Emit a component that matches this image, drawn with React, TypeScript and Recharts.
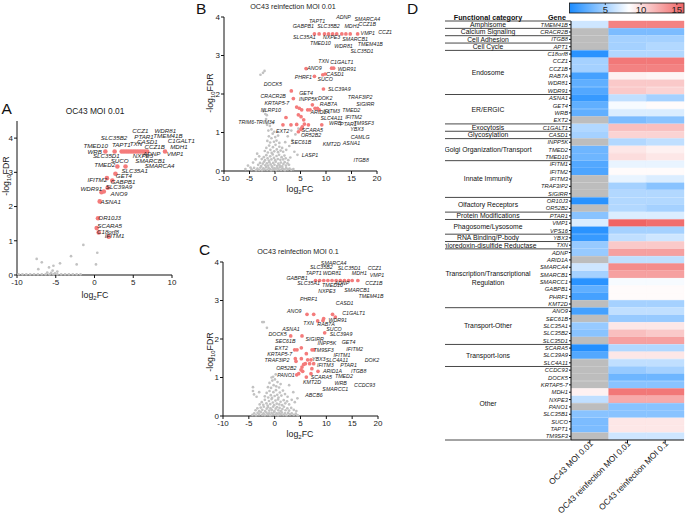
import React from "react";
import {
  ScatterChart,
  Scatter,
  XAxis,
  YAxis,
  ReferenceDot,
  BarChart,
  Bar,
  Cell,
} from "recharts";

const FONT = "'Liberation Sans', Arial, Helvetica, sans-serif";

type Pt = [number, number];
type Lbl = [string, number, number];

// ---------- panel A : OC43 MOI 0.01 ----------
const aRed: Pt[] = [
  [1.4, 3.61], [2.6, 3.61], [3.5, 3.61], [3.8, 3.61], [4.1, 3.61], [4.4, 3.61],
  [4.7, 3.61], [5.0, 3.61], [5.3, 3.61], [5.6, 3.61], [5.9, 3.61], [6.2, 3.61],
  [6.5, 3.61], [6.8, 3.61], [9.1, 3.61], [2.95, 3.17], [4.0, 3.17], [2.7, 2.96],
  [1.6, 2.83], [2.3, 2.76], [1.7, 2.55], [1.2, 2.44], [0.9, 2.42], [0.67, 2.15],
  [0.45, 1.66], [0.28, 1.37], [0.54, 1.24], [1.83, 1.12],
];
const aGray: Pt[] = [
  [-9.8, 0.02], [-9.3, 0.02], [-8.8, 0.02], [-8.3, 0.02], [-7.8, 0.02], [-7.3, 0.02],
  [-6.8, 0.02], [-6.3, 0.02], [-5.8, 0.02], [-5.3, 0.02], [-4.8, 0.02], [-4.3, 0.02],
  [-3.8, 0.02], [-3.3, 0.02], [-2.8, 0.02], [-2.3, 0.02], [-1.8, 0.02],
  [-7.46, 0.47], [-6.8, 0.37], [-7.25, 0.17], [-5.87, 0.22], [-5.3, 0.27], [-4.45, 0.34],
  [-5.4, 0.13], [-4.8, 0.1], [-3.03, 0.55], [-2.3, 0.31], [-1.44, 0.88], [0.36, 0.65],
  [0.19, 0.31], [-6.1, 0.07], [-5.6, 0.06], [-5.1, 0.05],
];
const aLabels: Lbl[] = [
  ["CCZ1", 5.91, 4.21], ["WDR81", 9.14, 4.21], ["PTAR1", 6.39, 4.04], ["TMEM41B", 9.48, 4.07],
  ["SLC35B2", 2.52, 4.02], ["CASD1", 6.82, 3.9], ["C1GALT1", 11.2, 3.91], ["TMED10", 0.15, 3.78],
  ["TAPT1", 3.46, 3.8], ["TXN", 5.35, 3.83], ["CCZ1B", 7.76, 3.74], ["MDH1", 10.9, 3.74],
  ["WRB", 0.02, 3.6], ["ADNP", 7.38, 3.54], ["VMP1", 10.4, 3.53], ["SLC35D1", 1.53, 3.48],
  ["NXPE3", 6.26, 3.48], ["SMARCB1", 7.2, 3.34], ["SUCO", 3.25, 3.34], ["TMED2", 1.31, 3.22],
  ["SMARCA4", 8.4, 3.19], ["SLC35A1", 5.18, 3.04], ["GET4", 3.8, 2.9], ["IFITM2", 0.37, 2.78],
  ["GABPB1", 3.68, 2.72], ["SLC39A9", 3.16, 2.57], ["WDR91", -0.41, 2.51], ["ANO9", 3.16, 2.37],
  ["ASNA1", 2.09, 2.14], ["OR10J3", 1.96, 1.67], ["SCARA5", 1.96, 1.43], ["C18orf8", 1.74, 1.26],
  ["IFITM1", 2.6, 1.14],
];

// ---------- panel B : OC43 reinfection MOI 0.01 ----------
const bRed: Pt[] = [
  [7.73, 3.56], [8.65, 3.56], [9.7, 3.56], [10.5, 3.56], [11.3, 3.56], [12.1, 3.56],
  [13.1, 3.56], [13.9, 3.56], [14.75, 3.56], [16.2, 3.56],
  [6.09, 2.66], [11.1, 2.67], [11.5, 2.67], [9.37, 2.5], [9.83, 2.52], [7.73, 2.46],
  [9.5, 2.13], [3.2, 2.08], [3.6, 1.88], [4.25, 1.66], [4.77, 1.63], [5.23, 1.59],
  [7.33, 1.72], [6.41, 1.59], [6.87, 1.59], [7.86, 1.63], [8.32, 1.63], [8.65, 1.59],
  [2.15, 1.39], [4.58, 1.46], [5.1, 1.41], [5.63, 1.33], [5.76, 1.22], [5.23, 1.11],
  [4.25, 1.21], [1.56, 1.2], [3.13, 1.2], [6.55, 1.2], [9.17, 1.2], [4.58, 1.02],
  [5.1, 1.08], [5.36, 1.15],
];
const bGray: Pt[] = [
  [-4.6, 0.04], [-4.1, 0.08], [-3.7, 0.02], [-3.45, 0.06], [-3.1, 0.03], [-2.85, 0.09],
  [-2.55, 0.02], [-2.3, 0.07], [-2.05, 0.04], [-1.75, 0.1], [-1.5, 0.03], [-1.25, 0.08],
  [-1.0, 0.05], [-0.75, 0.02], [-0.5, 0.09], [-0.3, 0.04], [-0.05, 0.07], [0.2, 0.02],
  [0.45, 0.08], [0.7, 0.04], [0.95, 0.1], [1.2, 0.03], [1.45, 0.07], [1.7, 0.05],
  [1.95, 0.02], [2.2, 0.08], [2.5, 0.04], [2.85, 0.06], [3.2, 0.03], [3.6, 0.05],
  [-3.3, 0.16], [-2.95, 0.21], [-2.7, 0.13], [-2.4, 0.19], [-2.15, 0.24], [-1.9, 0.15],
  [-1.6, 0.2], [-1.35, 0.14], [-1.1, 0.23], [-0.85, 0.17], [-0.6, 0.12], [-0.35, 0.21],
  [-0.1, 0.16], [0.15, 0.24], [0.4, 0.13], [0.65, 0.19], [0.9, 0.15], [1.15, 0.22],
  [1.4, 0.12], [1.65, 0.18], [1.9, 0.23], [2.15, 0.14], [2.45, 0.2], [2.75, 0.16],
  [-2.6, 0.31], [-2.2, 0.36], [-1.95, 0.28], [-1.7, 0.41], [-1.45, 0.33], [-1.2, 0.27],
  [-0.95, 0.38], [-0.7, 0.3], [-0.45, 0.43], [-0.2, 0.34], [0.05, 0.28], [0.3, 0.39],
  [0.55, 0.31], [0.8, 0.42], [1.05, 0.29], [1.3, 0.36], [1.6, 0.3], [1.85, 0.4], [2.1, 0.33],
  [-2.0, 0.52], [-1.7, 0.6], [-1.4, 0.48], [-1.15, 0.66], [-0.9, 0.55], [-0.65, 0.47],
  [-0.4, 0.62], [-0.15, 0.51], [0.1, 0.68], [0.35, 0.56], [0.6, 0.49], [0.85, 0.63],
  [1.1, 0.53], [1.4, 0.6],
  [-1.5, 0.78], [-1.2, 0.9], [-0.95, 0.74], [-0.7, 0.85], [-0.45, 0.97], [-0.2, 0.76],
  [0.05, 0.88], [0.3, 0.79], [0.6, 0.92], [0.85, 0.73],
  [-1.3, 1.05], [-1.0, 1.17], [-0.7, 1.08], [-0.4, 1.25], [-1.55, 1.2], [-0.15, 1.02],
  [-1.75, 1.35], [-1.9, 1.48], [-2.1, 1.6], [-1.6, 1.45], [-2.3, 1.55],
  [-2.35, 2.55], [-2.85, 2.5], [-2.05, 2.6],
  [-5.3, 0.14], [-4.3, 0.22], [-3.8, 0.3], [-4.8, 0.09], [-3.5, 0.45], [-5.8, 0.05], [-3.1, 0.38],
  [1.6, 0.5], [2.2, 0.55], [2.8, 0.65], [3.4, 0.8], [4.0, 0.95], [4.6, 1.1], [3.0, 0.35],
  [3.8, 0.5], [2.5, 0.9], [3.2, 1.05], [4.4, 0.42], [2.0, 0.75], [2.6, 0.28],
];
const bLabels: Lbl[] = [
  ["ADNP", 13.44, 3.99], ["SMARCA4", 18.1, 3.95], ["TAPT1", 8.25, 3.88], ["CCZ1B", 18.1, 3.81],
  ["GABPB1", 5.56, 3.75], ["SLC35B2", 10.49, 3.75], ["MDH1", 15.08, 3.75], ["VMP1", 18.2, 3.57],
  ["CCZ1", 21.6, 3.6], ["SLC35A1", 5.76, 3.47], ["NXPE3", 11.1, 3.47], ["SMARCB1", 15.7, 3.43],
  ["TMED10", 8.9, 3.32], ["WDR81", 13.44, 3.25], ["TMEM41B", 18.7, 3.3], ["SLC35D1", 17.05, 3.11],
  ["TXN", 9.5, 2.85], ["C1GALT1", 13.1, 2.83], ["ANO9", 7.73, 2.67], ["WDR91", 14.1, 2.65],
  ["CASD1", 11.8, 2.52], ["PHRF1", 5.56, 2.43], ["SUCO", 9.83, 2.39], ["DOCK5", -0.41, 2.26],
  ["SLC39A9", 12.6, 2.13], ["GET4", 6.09, 2.02], ["CRACR2B", -0.35, 1.95], ["TRAF3IP2", 16.7, 1.93],
  ["DOK2", 9.83, 1.89], ["INPP5K", 6.55, 1.87], ["KRTAP5-7", 0.37, 1.76], ["RAB7A", 10.5, 1.74],
  ["SIGIRR", 17.7, 1.74], ["NLRP10", -0.81, 1.59], ["ARID1A", 8.85, 1.52], ["IFITM3", 11.1, 1.56],
  ["TMED2", 14.95, 1.59], ["TRIM6-TRIM34", -3.63, 1.26], ["SLC4A11", 11.1, 1.37], ["IFITM2", 15.4, 1.39],
  ["TM9SF3", 17.4, 1.24], ["EXT2", 1.49, 1.04], ["WRB", 11.8, 1.24], ["PTAR1", 14.4, 1.22],
  ["SCARA5", 7.33, 1.07], ["YBX3", 16.07, 1.08], ["OR52B2", 7.07, 0.92], ["CAMLG", 16.7, 0.88],
  ["SEC61B", 5.1, 0.74], ["KMT2D", 11.1, 0.7], ["ASNA1", 15.0, 0.72], ["LASP1", 6.87, 0.42],
  ["ITGB8", 16.9, 0.29],
];

// ---------- panel C : OC43 reinfection MOI 0.1 ----------
const cRed: Pt[] = [
  [7.9, 3.52], [8.7, 3.52], [9.5, 3.52], [10.3, 3.52], [11.1, 3.52], [11.9, 3.52],
  [12.7, 3.52], [13.5, 3.52], [14.3, 3.52], [15.0, 3.52], [16.1, 3.52],
  [6.26, 2.64], [7.55, 2.64], [11.2, 2.64], [11.74, 2.57], [9.48, 2.53], [9.35, 2.48],
  [8.32, 2.47], [9.68, 2.16], [3.1, 2.08], [5.29, 2.08], [5.16, 1.77], [3.87, 1.72],
  [4.32, 1.72], [7.23, 1.72], [7.55, 1.72], [6.13, 1.62], [4.0, 1.49], [4.13, 1.42],
  [5.16, 1.49], [6.39, 1.46], [7.03, 1.46], [5.94, 1.36], [5.61, 1.34], [6.77, 1.36],
  [7.55, 1.36], [5.29, 1.27], [5.42, 1.16], [5.1, 1.2], [4.26, 1.07], [4.65, 1.1],
  [6.13, 1.01], [7.03, 1.1], [8.39, 1.16], [7.2, 1.23],
];
const cGray: Pt[] = [
  [-4.3, 0.03], [-3.95, 0.07], [-3.6, 0.02], [-3.3, 0.08], [-3.0, 0.04], [-2.7, 0.1],
  [-2.4, 0.03], [-2.15, 0.07], [-1.9, 0.02], [-1.6, 0.09], [-1.35, 0.04], [-1.1, 0.07],
  [-0.85, 0.02], [-0.6, 0.08], [-0.35, 0.04], [-0.1, 0.1], [0.15, 0.03], [0.4, 0.07],
  [0.65, 0.02], [0.9, 0.08], [1.15, 0.04], [1.4, 0.09], [1.7, 0.03], [2.0, 0.07],
  [2.3, 0.02], [2.6, 0.08], [2.95, 0.04], [3.3, 0.07], [3.7, 0.03], [4.1, 0.06], [4.45, 0.02],
  [-3.7, 0.15], [-3.35, 0.2], [-3.0, 0.13], [-2.7, 0.22], [-2.4, 0.16], [-2.1, 0.24],
  [-1.85, 0.13], [-1.55, 0.19], [-1.3, 0.23], [-1.05, 0.14], [-0.8, 0.2], [-0.55, 0.16],
  [-0.3, 0.24], [-0.05, 0.13], [0.2, 0.19], [0.45, 0.23], [0.7, 0.15], [0.95, 0.21],
  [1.2, 0.13], [1.5, 0.18], [1.8, 0.24], [2.1, 0.15], [2.45, 0.2], [2.8, 0.14],
  [3.2, 0.21], [3.7, 0.16], [4.2, 0.13],
  [-2.9, 0.3], [-2.5, 0.36], [-2.2, 0.29], [-1.9, 0.42], [-1.6, 0.33], [-1.35, 0.27],
  [-1.1, 0.39], [-0.85, 0.31], [-0.6, 0.44], [-0.35, 0.35], [-0.1, 0.28], [0.15, 0.4],
  [0.4, 0.32], [0.65, 0.43], [0.9, 0.3], [1.15, 0.37], [1.45, 0.28], [1.75, 0.41],
  [2.05, 0.33], [2.4, 0.38], [2.8, 0.3], [3.3, 0.42], [3.9, 0.36], [4.4, 0.46],
  [-1.9, 0.51], [-1.55, 0.6], [-1.25, 0.48], [-1.0, 0.65], [-0.75, 0.54], [-0.5, 0.47],
  [-0.25, 0.62], [0.0, 0.52], [0.25, 0.67], [0.5, 0.55], [0.75, 0.48], [1.0, 0.61],
  [1.3, 0.53], [1.6, 0.66], [2.0, 0.57], [2.5, 0.5],
  [-1.3, 0.75], [-1.0, 0.86], [-0.7, 0.73], [-0.45, 0.92], [-0.2, 0.8], [0.05, 0.95],
  [0.3, 0.77], [0.55, 0.88], [0.85, 0.74], [1.15, 0.83],
  [-0.3, 1.02], [0.2, 1.08], [-0.6, 1.0],
  [-4.2, 0.75], [-4.2, 0.65], [-4.0, 0.56], [-3.5, 0.5], [-3.0, 0.62],
  [-2.1, 2.44], [-1.5, 2.29], [-2.4, 2.44], [2.8, 0.8], [3.6, 0.62],
];
const cLabels: Lbl[] = [
  ["SMARCA4", 11.42, 3.97], ["SLC35B2", 9.03, 3.87], ["SLC35D1", 14.45, 3.84], ["CCZ1", 19.35, 3.85],
  ["TAPT1", 7.55, 3.71], ["WDR81", 11.1, 3.7], ["MDH1", 16.39, 3.7], ["VMP1", 19.8, 3.66],
  ["GABPB1", 4.32, 3.58], ["SLC35A1", 6.58, 3.44], ["TMED10", 11.2, 3.39], ["ADNP", 13.0, 3.44],
  ["CCZ1B", 19.2, 3.46], ["NXPE3", 10.1, 3.24], ["SMARCB1", 15.94, 3.26], ["TMEM41B", 18.65, 3.12],
  ["PHRF1", 6.58, 3.03], ["CASD1", 13.55, 2.92], ["ANO9", 3.8, 2.73], ["C1GALT1", 15.3, 2.66],
  ["WDR91", 12.2, 2.48], ["TXN", 6.58, 2.42], ["RAB7A", 9.94, 2.38], ["ASNA1", 3.16, 2.25],
  ["DOCK5", 0.58, 2.12], ["SUCO", 11.48, 2.26], ["SLC39A9", 12.84, 2.13], ["SEC61B", 2.06, 1.95],
  ["GET4", 14.3, 1.93], ["SIGIRR", 7.74, 2.0], ["INPP5K", 10.1, 1.9], ["EXT2", 1.29, 1.77],
  ["TM9SF3", 9.48, 1.71], ["IFITM2", 15.48, 1.73], ["KRTAP5-7", 0.97, 1.61], ["IFITM1", 13.03, 1.59],
  ["TRAF3IP2", 0.45, 1.46], ["YBX3", 8.52, 1.47], ["SLC4A11", 12.06, 1.45], ["DOK2", 18.84, 1.46],
  ["OR52B2", 2.26, 1.25], ["IFITM3", 9.8, 1.32], ["PTAR1", 14.3, 1.32], ["PANO1", 2.19, 1.07],
  ["ARID1A", 11.2, 1.17], ["ITGB8", 16.26, 1.17], ["SCARA5", 9.03, 1.01], ["TMED2", 13.4, 1.03],
  ["KMT2D", 7.23, 0.87], ["WRB", 12.77, 0.86], ["CCDC93", 17.42, 0.81], ["SMARCC1", 11.74, 0.7],
  ["ABCB6", 7.61, 0.54],
];

const xTicksA = [-10, -5, 0, 5, 10];
const xTicksBC = [-10, -5, 0, 5, 10, 15, 20];
const yTicks = [0, 1, 2, 3, 4];

// ---------- panel D : heatmap ----------
const categoryNames = [
  "Amphisome", "Calcium Signaling", "Cell Adhesion", "Cell Cycle", "Endosome", "ER/ERGIC",
  "Exocytosis", "Glycosylation", "Golgi Organization/Transport", "Innate Immunity",
  "Olfactory Receptors", "Protein Modifications", "Phagosome/Lysosome", "RNA Binding/P-body",
  "Thioredoxin-disulfide Reductase", "Transcription/Transcriptional\nRegulation",
  "Transport-Other", "Transport-Ions", "Other",
];
const categorySizes = [1, 1, 1, 1, 6, 4, 1, 1, 3, 5, 2, 1, 2, 1, 1, 8, 5, 3, 10];
const genes = [
  "TMEM41B", "CRACR2B", "ITGB8", "APT1", "C18orf8", "CCZ1", "CCZ1B", "RAB7A", "WDR81", "WDR91",
  "ASNA1", "GET4", "WRB", "EXT2", "C1GALT1", "CASD1", "INPP5K", "TMED2", "TMED10", "IFITM1",
  "IFITM2", "IFITM3", "TRAF3IP2", "SIGIRR", "OR10J3", "OR52B2", "PTAR1", "VMP1", "VPS16", "YBX3",
  "TXN", "ADNP", "ARID1A", "SMARCA4", "SMARCB1", "SMARCC1", "GABPB1", "PHRF1", "KMT2D", "ANO9",
  "SEC61B", "SLC35A1", "SLC35B2", "SLC35D1", "SCARA5", "SLC39A9", "SLC4A11", "CCDC93", "DOCK5",
  "KRTAP5-7", "MDH1", "NXPE3", "PANO1", "SLC35B1", "SUCO", "TAPT1", "TM9SF3",
];
const moi001: (number | null)[] = [
  6.5, null, null, null, 0.5, 5, 5, 1.5, 2.5, 2, 1, 2.5, 2.5, null, 5.5, 5, null, 3, 3, 2,
  1.8, null, null, null, 0.5, null, 4, 7, 0.5, 1, 4.5, 4.5, null, 6.5, 5, 0.5, 2.5, 1.5, null, 1.5,
  null, 4.5, 4, null, 0.3, 2, null, null, null, null, 9, 6, null, 4, 3.5, 3.5, null,
];
const reinf001: (number | null)[] = [
  14.5, 3.5, 5, 5, 5.5, 15, 14.5, 9, 11, 11, 6, 8, 7, 3.5, 11.5, 10.5, 5.5, 9.5, 10, 7.5,
  8.5, 7.5, 5, 5.5, 5.5, 5.5, 7, 16, 5, 6, 11, 13, 6, 14, 13, 8, 8.5, 8.5, 5, 6,
  4.5, 9.5, 11.5, 13, 5.5, 9.5, 6, 4.5, 3, 4, 15, 12.5, 4, 4, 9.5, 9.5, 6.5,
];
const reinf01: (number | null)[] = [
  14.5, 3.5, 5, 5.5, 5.5, 15, 14.5, 8.8, 11, 10.5, 5, 8.5, 7, 4, 11.5, 10.5, 6, 9, 9.5, 7.5,
  8.5, 7, 4, 5.5, 5.5, 5, 7, 15.5, 5, 6.5, 11, 13, 6, 14, 13, 8, 8.5, 8.5, 5, 6,
  4.5, 9.5, 11, 13, 5.5, 9.5, 6, 5, 3, 4, 15, 12.5, 4, 4, 9.5, 9.5, 6.5,
];
const columnNames = ["OC43 MOI 0.01", "OC43 reinfection MOI 0.01", "OC43 reinfection MOI 0.1"];
const colorTicks = [5, 10, 15];

// colour scale (blue - white - red)
const CB_MIN = 0;
const CB_MID = 8.3;
const CB_MAX = 16;
const BLUE = [28, 140, 255];
const RED = [240, 100, 100];
const MISSING = "#bdbdbd";

function mix(a: number[], t: number) {
  const c = a.map((v) => Math.round(255 + (v - 255) * t));
  return `rgb(${c[0]},${c[1]},${c[2]})`;
}
function heatColor(v: number | null) {
  if (v == null) return MISSING;
  if (v <= CB_MID) return mix(BLUE, Math.min(1, (CB_MID - v) / (CB_MID - CB_MIN)));
  return mix(RED, Math.min(1, (v - CB_MID) / (CB_MAX - CB_MID)));
}

// heatmap geometry
const HM_W = 240;
const HM_H = 517;
const HM_TOP = 21;
const HM_XAXIS = 77;
const HM_YAXIS = 126;
const ROW_H = (HM_H - HM_TOP - HM_XAXIS) / genes.length;

const groupStarts: Record<number, { name: string; size: number }> = {};
{
  let idx = 0;
  categoryNames.forEach((name, k) => {
    groupStarts[idx] = { name, size: categorySizes[k] };
    idx += categorySizes[k];
  });
}

const heatRows = genes.map((gene, i) => ({
  gene,
  c1: 1,
  c2: 1,
  c3: 1,
  v1: moi001[i],
  v2: reinf001[i],
  v3: reinf01[i],
}));

const GeneTick = (props: any) => {
  const { x, y, payload } = props;
  const i = genes.indexOf(payload.value);
  const g = groupStarts[i];
  let cat = null;
  if (g) {
    const lines = g.name.split("\n");
    const cy = y + ((g.size - 1) * ROW_H) / 2;
    cat = lines.map((ln, j) => (
      <text
        key={j}
        x={43}
        y={cy + (j - (lines.length - 1) / 2) * 9}
        dy={2.4}
        textAnchor="middle"
        fontSize={6.8}
        fill="#111"
        fontFamily={FONT}
      >
        {ln}
      </text>
    ));
  }
  return (
    <g>
      <text x={x} y={y} dy={2} textAnchor="end" fontSize={5.8} fontStyle="italic" fill="#222" fontFamily={FONT}>
        {payload.value}
      </text>
      {g && <line x1={0} x2={HM_YAXIS} y1={y - ROW_H / 2} y2={y - ROW_H / 2} stroke="#333" strokeWidth={0.9} />}
      {i === genes.length - 1 && (
        <line x1={0} x2={HM_YAXIS} y1={y + ROW_H / 2} y2={y + ROW_H / 2} stroke="#333" strokeWidth={0.9} />
      )}
      {cat}
    </g>
  );
};

const ColTick = (props: any) => {
  const { x, y, payload } = props;
  const name = columnNames[Math.floor(payload.value)];
  const tx = x + 1.5;
  const ty = y - 2;
  return (
    <text
      x={tx}
      y={ty}
      dy={3}
      transform={`rotate(-45 ${tx} ${ty})`}
      textAnchor="end"
      fontSize={8.3}
      fill="#222"
      fontFamily={FONT}
    >
      {name}
    </text>
  );
};

type VolcanoProps = {
  left: number;
  top: number;
  width: number;
  height: number;
  margin: { top: number; right: number; bottom: number; left: number };
  yWidth: number;
  xHeight: number;
  xDomain: [number, number];
  xTicks: number[];
  yDomain: [number, number];
  gray: Pt[];
  red: Pt[];
  labels: Lbl[];
  labelSize: number;
  redR: number;
};

const Volcano = (p: VolcanoProps) => {
  const toObj = (pts: Pt[]) => pts.map(([x, y]) => ({ x, y }));
  const tickStyle = { fontSize: 8, fill: "#222", fontFamily: FONT };
  return (
    <div style={{ position: "absolute", left: p.left, top: p.top }}>
      <ScatterChart width={p.width} height={p.height} margin={p.margin}>
        <XAxis
          type="number"
          dataKey="x"
          domain={p.xDomain}
          ticks={p.xTicks}
          interval={0}
          height={p.xHeight}
          tickSize={3}
          tickMargin={1}
          tick={tickStyle}
          axisLine={{ stroke: "#111" }}
          tickLine={{ stroke: "#111" }}
        />
        <YAxis
          type="number"
          dataKey="y"
          domain={p.yDomain}
          ticks={yTicks}
          interval={0}
          width={p.yWidth}
          tickSize={3}
          tickMargin={1}
          tick={tickStyle}
          axisLine={{ stroke: "#111" }}
          tickLine={{ stroke: "#111" }}
        />
        <Scatter
          data={toObj(p.gray)}
          isAnimationActive={false}
          shape={(s: any) => <circle cx={s.cx} cy={s.cy} r={1.35} fill="#c2c2c2" />}
        />
        <Scatter
          data={toObj(p.red)}
          isAnimationActive={false}
          shape={(s: any) => <circle cx={s.cx} cy={s.cy} r={p.redR} fill="#f47b7b" />}
        />
        {p.labels.map(([t, x, y], i) => (
          <ReferenceDot
            key={i}
            x={x}
            y={y}
            r={0}
            ifOverflow="visible"
            shape={(s: any) => (
              <text
                x={s.cx}
                y={s.cy}
                dy={p.labelSize * 0.35}
                textAnchor="middle"
                fontSize={p.labelSize}
                fontStyle="italic"
                fill="#222"
                fontFamily={FONT}
              >
                {t}
              </text>
            )}
          />
        ))}
      </ScatterChart>
    </div>
  );
};

const AxisTitleX = ({ x, y }: { x: number; y: number }) => (
  <text x={x} y={y} textAnchor="middle" fontSize={8.8} fill="#222" fontFamily={FONT}>
    log
    <tspan fontSize={6} dy={2}>2</tspan>
    <tspan dy={-2}>FC</tspan>
  </text>
);
const AxisTitleY = ({ x, y }: { x: number; y: number }) => (
  <text
    x={x}
    y={y}
    transform={`rotate(-90 ${x} ${y})`}
    dy={3}
    textAnchor="middle"
    fontSize={8.8}
    fill="#222"
    fontFamily={FONT}
  >
    -log
    <tspan fontSize={6} dy={2}>10</tspan>
    <tspan dy={-2}>FDR</tspan>
  </text>
);

const CB_X = 569.5;
const CB_W = 114.5;
const cbPos = (v: number) => CB_X + ((v - CB_MIN) / (CB_MAX - CB_MIN)) * CB_W;

export default function App() {
  return (
    <div
      style={{
        position: "absolute",
        left: 0,
        top: 0,
        width: 685,
        height: 517,
        background: "#fff",
        overflow: "hidden",
        fontFamily: FONT,
      }}
    >
      <Volcano
        left={0}
        top={110}
        width={195}
        height={190}
        margin={{ top: 11, right: 23, bottom: 0, left: 0 }}
        yWidth={17}
        xHeight={25}
        xDomain={[-10, 10]}
        xTicks={xTicksA}
        yDomain={[0, 4.5]}
        gray={aGray}
        red={aRed}
        labels={aLabels}
        labelSize={6.2}
        redR={2.3}
      />
      <Volcano
        left={195}
        top={0}
        width={215}
        height={200}
        margin={{ top: 17, right: 33, bottom: 0, left: 0 }}
        yWidth={29}
        xHeight={29}
        xDomain={[-10, 20]}
        xTicks={xTicksBC}
        yDomain={[0, 4]}
        gray={bGray}
        red={bRed}
        labels={bLabels}
        labelSize={5.3}
        redR={1.85}
      />
      <Volcano
        left={195}
        top={245}
        width={215}
        height={200}
        margin={{ top: 17, right: 32, bottom: 0, left: 0 }}
        yWidth={28}
        xHeight={29}
        xDomain={[-10, 20]}
        xTicks={xTicksBC}
        yDomain={[0, 4]}
        gray={cGray}
        red={cRed}
        labels={cLabels}
        labelSize={5.3}
        redR={1.85}
      />

      <div style={{ position: "absolute", left: 445, top: 0 }}>
        <BarChart
          width={HM_W}
          height={HM_H}
          data={heatRows}
          layout="vertical"
          margin={{ top: HM_TOP, right: 1, bottom: 0, left: 0 }}
          barCategoryGap={0}
        >
          <XAxis
            type="number"
            domain={[0, 3]}
            ticks={[0.5, 1.5, 2.5]}
            interval={0}
            height={HM_XAXIS}
            tickSize={3}
            tickMargin={1}
            tick={<ColTick />}
            axisLine={{ stroke: "#111" }}
            tickLine={{ stroke: "#111" }}
          />
          <YAxis
            type="category"
            dataKey="gene"
            width={HM_YAXIS}
            interval={0}
            tickSize={2}
            tickMargin={1}
            tick={<GeneTick />}
            axisLine={{ stroke: "#111" }}
            tickLine={{ stroke: "#111" }}
          />
          <Bar dataKey="c1" stackId="h" isAnimationActive={false}>
            {heatRows.map((r, i) => (
              <Cell key={i} fill={heatColor(r.v1)} stroke={heatColor(r.v1)} strokeWidth={0.4} />
            ))}
          </Bar>
          <Bar dataKey="c2" stackId="h" isAnimationActive={false}>
            {heatRows.map((r, i) => (
              <Cell key={i} fill={heatColor(r.v2)} stroke={heatColor(r.v2)} strokeWidth={0.4} />
            ))}
          </Bar>
          <Bar dataKey="c3" stackId="h" isAnimationActive={false}>
            {heatRows.map((r, i) => (
              <Cell key={i} fill={heatColor(r.v3)} stroke={heatColor(r.v3)} strokeWidth={0.4} />
            ))}
          </Bar>
        </BarChart>
      </div>

      <svg
        width={685}
        height={517}
        style={{ position: "absolute", left: 0, top: 0, pointerEvents: "none" }}
      >
        <defs>
          <linearGradient id="cbGrad" x1="0" x2="1" y1="0" y2="0">
            <stop offset="0" stopColor={heatColor(CB_MIN)} />
            <stop offset={(CB_MID - CB_MIN) / (CB_MAX - CB_MIN)} stopColor={heatColor(CB_MID)} />
            <stop offset="1" stopColor={heatColor(CB_MAX)} />
          </linearGradient>
        </defs>
        {/* panel letters */}
        <text x={1.5} y={114} fontSize={15.5} fill="#111" fontFamily={FONT}>A</text>
        <text x={196} y={13.5} fontSize={15.5} fill="#111" fontFamily={FONT}>B</text>
        <text x={199} y={254.5} fontSize={15.5} fill="#111" fontFamily={FONT}>C</text>
        <text x={407} y={13.5} fontSize={15.5} fill="#111" fontFamily={FONT}>D</text>

        {/* titles */}
        <text x={95} y={114} textAnchor="middle" fontSize={8.4} fill="#222" fontFamily={FONT}>
          OC43 MOI 0.01
        </text>
        <text x={293} y={9} textAnchor="middle" fontSize={7.2} fill="#222" fontFamily={FONT}>
          OC43 reinfection MOI 0.01
        </text>
        <text x={298} y={254} textAnchor="middle" fontSize={7.2} fill="#222" fontFamily={FONT}>
          OC43 reinfection MOI 0.1
        </text>

        <AxisTitleX x={95} y={298} />
        <AxisTitleX x={300} y={192} />
        <AxisTitleX x={300} y={437} />
        <AxisTitleY x={6} y={176} />
        <AxisTitleY x={210} y={93} />
        <AxisTitleY x={210} y={352} />

        {/* heatmap header */}
        <text x={488} y={19.5} textAnchor="middle" fontSize={7.2} fontWeight="bold" fill="#111" fontFamily={FONT}>
          Functional category
        </text>
        <text x={557} y={19.5} textAnchor="middle" fontSize={7.2} fontWeight="bold" fill="#111" fontFamily={FONT}>
          Gene
        </text>

        {/* colour bar */}
        <rect x={CB_X} y={3} width={CB_W} height={10} fill="url(#cbGrad)" stroke="#111" strokeWidth={0.8} />
        {colorTicks.map((t) => (
          <g key={t}>
            <line x1={cbPos(t)} x2={cbPos(t)} y1={3} y2={5} stroke="#111" strokeWidth={0.8} />
            <text x={cbPos(t)} y={12.5} textAnchor="middle" fontSize={9.5} fill="#222" fontFamily={FONT}>
              {t}
            </text>
          </g>
        ))}
      </svg>
    </div>
  );
}
